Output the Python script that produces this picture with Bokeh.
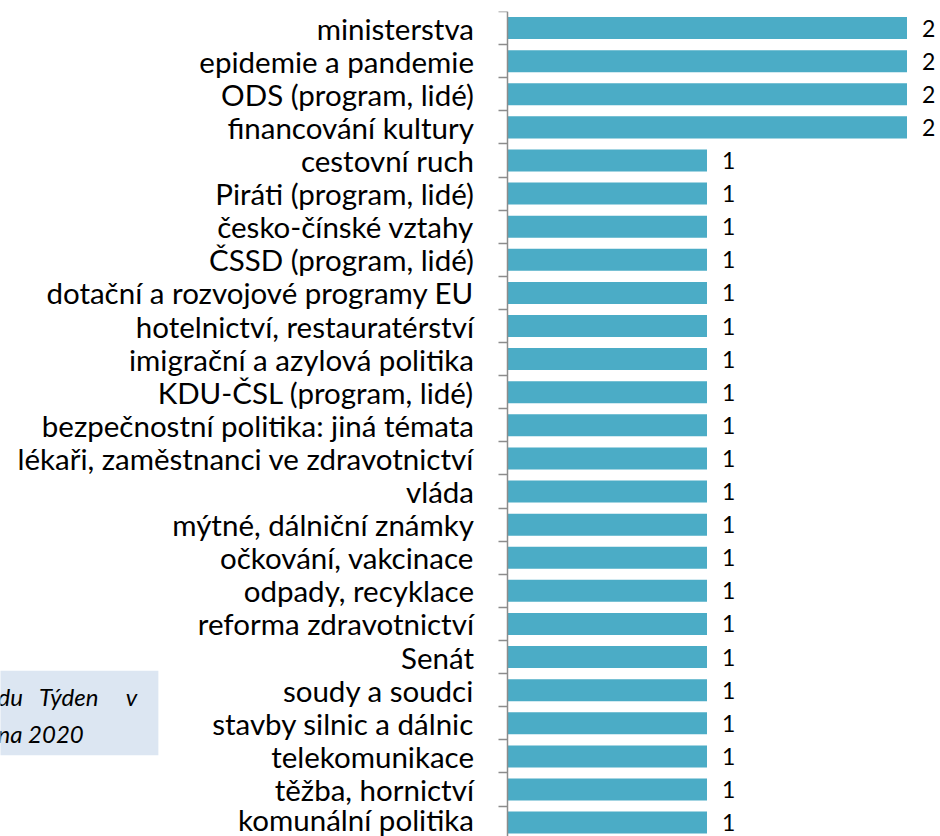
from bokeh.plotting import figure
from bokeh.models import Range1d, FixedTicker, Label, ColumnDataSource
from bokeh.core.properties import value
from bokeh.embed import file_html
from bokeh.resources import INLINE

categories = [
    "ministerstva", "epidemie a pandemie", "ODS (program, lidé)", "financování kultury",
    "cestovní ruch", "Piráti (program, lidé)", "česko-čínské vztahy", "ČSSD (program, lidé)",
    "dotační a rozvojové programy EU", "hotelnictví, restauratérství",
    "imigrační a azylová politika", "KDU-ČSL (program, lidé)",
    "bezpečnostní politika: jiná témata", "lékaři, zaměstnanci ve zdravotnictví",
    "vláda", "mýtné, dálniční známky", "očkování, vakcinace", "odpady, recyklace",
    "reforma zdravotnictví", "Senát", "soudy a soudci", "stavby silnic a dálnic",
    "telekomunikace", "těžba, hornictví", "komunální politika",
]
values = [2, 2, 2, 2, 1, 1, 1, 1, 1, 1, 1, 1, 1, 1, 1, 1, 1, 1, 1, 1, 1, 1, 1, 1, 1]
# justified source note (cut off at the left edge in the original)
NB = "\u00a0"
note_lines = ["du" + NB * 3 + "Týden" + NB * 5 + "v", "na 2020"]

BAR = "#4BACC6"
AXIS = "#8C8C8C"
FONT = "Lato"

pos = list(range(len(categories)))
src = ColumnDataSource(dict(y=pos, v=values, lab=[str(v) for v in values]))

p = figure(width=940, height=836, output_backend="svg", toolbar_location=None,
           x_range=Range1d(-2.5325, 2.1675), y_range=Range1d(24.42, -0.5),
           min_border_left=0, min_border_right=0, min_border_top=11, min_border_bottom=0,
           outline_line_color=None, background_fill_color="white")

p.hbar(y="y", right="v", left=0, height=0.665, source=src, fill_color=BAR,
       line_color=None)
p.text(x="v", y="y", text="lab", source=src, x_offset=15, text_baseline="middle",
       text_align="left", text_font=value(FONT), text_font_size="23px",
       text_color="#000000")

p.xaxis.visible = False
p.xgrid.visible = False
p.ygrid.visible = False

yax = p.yaxis[0]
yax.fixed_location = 0
yax.ticker = FixedTicker(ticks=pos, minor_ticks=[i - 0.5 for i in pos] + [len(pos) - 0.5])
yax.major_label_overrides = {i: c for i, c in zip(pos, categories)}
yax.major_tick_line_color = None
yax.major_tick_out = 0
yax.major_tick_in = 0
yax.minor_tick_line_color = AXIS
yax.minor_tick_out = 9
yax.minor_tick_in = 0
yax.minor_tick_line_width = 1.5
yax.axis_line_color = AXIS
yax.axis_line_width = 1.5
yax.major_label_standoff = 24
yax.major_label_text_font = FONT
yax.major_label_text_font_size = "29.5px"
yax.major_label_text_color = "#000000"

note = Label(x=-2.5775, y=19.41, x_units="data", y_units="data",
             text="\n".join(note_lines), text_font=FONT, text_font_style="italic",
             text_font_size="24px", text_color="#000000", text_align="left",
             text_baseline="top", text_line_height=1.3,
             background_fill_color="#DCE6F2",
             padding=dict(left=6, right=21, top=11, bottom=7))
p.add_layout(note)

open("out.html", "w").write(file_html(p, INLINE))
